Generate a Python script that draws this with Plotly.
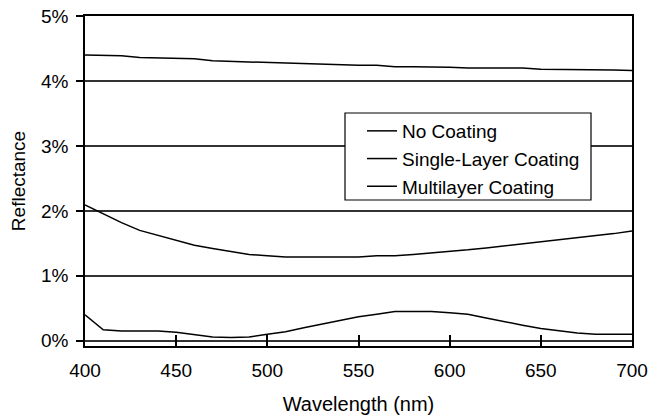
import plotly.graph_objects as go

wavelength = [400, 410, 420, 430, 440, 450, 460, 470, 480, 490, 500,
              510, 520, 530, 540, 550, 560, 570, 580, 590, 600,
              610, 620, 630, 640, 650, 660, 670, 680, 690, 700]

no_coating = [4.40, 4.39, 4.39, 4.36, 4.35, 4.35, 4.34, 4.31, 4.30, 4.29, 4.29,
              4.28, 4.26, 4.26, 4.24, 4.24, 4.24, 4.22, 4.22, 4.22, 4.21,
              4.20, 4.20, 4.20, 4.20, 4.18, 4.18, 4.18, 4.18, 4.17, 4.16]

single_layer = [2.09, 1.95, 1.82, 1.70, 1.62, 1.54, 1.47, 1.42, 1.37, 1.33, 1.31,
                1.29, 1.29, 1.29, 1.29, 1.29, 1.31, 1.31, 1.33, 1.35, 1.37,
                1.40, 1.43, 1.46, 1.49, 1.53, 1.55, 1.58, 1.62, 1.65, 1.69]

multilayer = [0.40, 0.17, 0.15, 0.15, 0.15, 0.13, 0.09, 0.06, 0.05, 0.06, 0.10,
              0.14, 0.20, 0.26, 0.31, 0.37, 0.41, 0.45, 0.45, 0.45, 0.43,
              0.41, 0.35, 0.29, 0.24, 0.19, 0.15, 0.12, 0.10, 0.10, 0.10]

series_names = ["No Coating", "Single-Layer Coating", "Multilayer Coating"]
y_ticks = [0, 1, 2, 3, 4, 5]
y_ticktext = ["0%", "1%", "2%", "3%", "4%", "5%"]
x_ticks = [400, 450, 500, 550, 600, 650, 700]

FONT = "Liberation Sans, Arial, sans-serif"

L, R, T, B = 85, 18, 16, 71
PW, PH = 650 - L - R, 417 - T - B

def px_x(x):
    return (x - L) / PW

def px_y(y):
    return (417 - B - y) / PH

fig = go.Figure()
for i, (name, vals) in enumerate(zip(series_names, [no_coating, single_layer, multilayer])):
    fig.add_trace(go.Scatter(x=wavelength, y=vals, mode="lines", name=name,
                             legendgroup="g%d" % i,
                             line=dict(color="black", width=1.5)))

# legend frame (drawn as a box, legend itself placed inside)
fig.add_shape(type="rect", xref="paper", yref="paper",
              x0=px_x(345), x1=px_x(591), y0=px_y(200), y1=px_y(113),
              line=dict(color="black", width=1.2), fillcolor="white", layer="above")

fig.update_layout(
    width=650, height=417,
    margin=dict(l=L, r=R, t=T, b=B),
    paper_bgcolor="white", plot_bgcolor="white",
    font=dict(family=FONT, size=19, color="black"),
    showlegend=True,
    legend=dict(x=px_x(362), y=px_y(112), xanchor="left", yanchor="top",
                bgcolor="rgba(0,0,0,0)", borderwidth=0,
                font=dict(family=FONT, size=19, color="black"),
                tracegroupgap=0, itemwidth=30),
    xaxis=dict(range=[400, 700], tickvals=x_ticks, showgrid=False, zeroline=False,
               showline=True, linecolor="black", linewidth=1.5, mirror=True,
               ticks="inside", ticklen=11, tickcolor="black", tickwidth=1.5,
               tickfont=dict(size=19), ticklabelstandoff=6, automargin=False,
               title=dict(text="Wavelength (nm)", font=dict(size=20), standoff=17)),
    yaxis=dict(range=[-0.08, 5], tickvals=y_ticks, ticktext=y_ticktext,
               showgrid=True, gridcolor="#333333", gridwidth=1.5, zeroline=False,
               showline=True, linecolor="black", linewidth=1.5, mirror=True,
               ticks="outside", ticklen=7, tickcolor="black", tickwidth=1.5,
               tickfont=dict(size=19), ticklabelstandoff=4, automargin=False,
               title=dict(text="Reflectance", font=dict(size=19), standoff=10)),
)

fig.write_html("out.html")
